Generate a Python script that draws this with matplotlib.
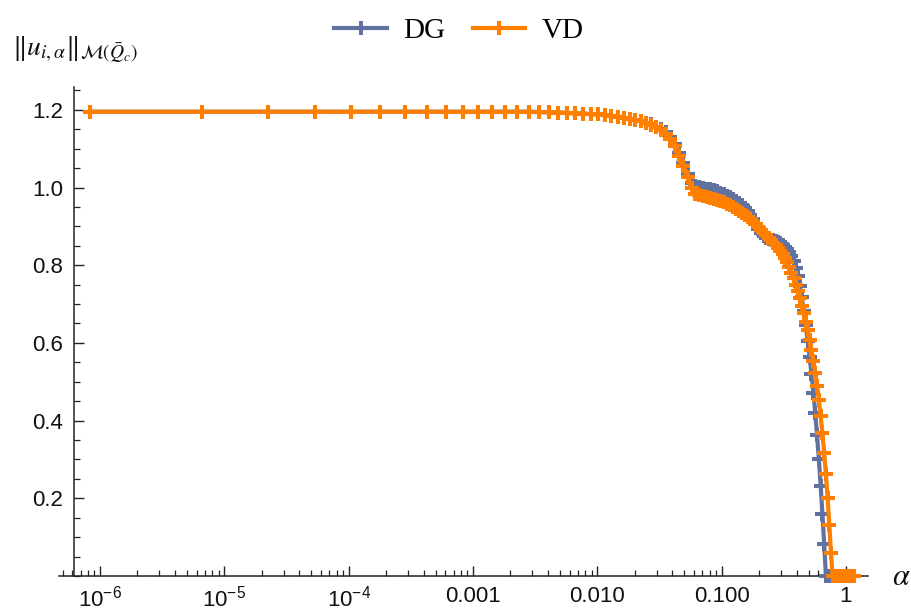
import matplotlib
matplotlib.use("Agg")
import matplotlib.pyplot as plt
import numpy as np
from matplotlib.ticker import FixedLocator, LogLocator, NullFormatter, MultipleLocator

plt.rcParams["font.family"] = ["Liberation Sans", "DejaVu Sans"]
plt.rcParams["mathtext.fontset"] = "custom"
plt.rcParams["mathtext.rm"] = "Liberation Sans"
plt.rcParams["mathtext.it"] = "Liberation Sans:italic"

# regularisation parameter values
alpha = [
    8.300e-07, 6.640e-06, 2.241e-05, 5.312e-05, 1.038e-04, 1.793e-04, 2.847e-04, 4.250e-04, 6.051e-04, 8.300e-04,
    1.105e-03, 1.434e-03, 1.824e-03, 2.278e-03, 2.801e-03, 3.400e-03, 4.078e-03, 4.841e-03, 5.693e-03, 6.640e-03,
    7.687e-03, 8.838e-03, 1.010e-02, 1.147e-02, 1.297e-02, 1.459e-02, 1.634e-02, 1.822e-02, 2.024e-02, 2.241e-02,
    2.473e-02, 2.720e-02, 2.983e-02, 3.262e-02, 3.559e-02, 3.872e-02, 4.204e-02, 4.554e-02, 4.923e-02, 5.312e-02,
    5.720e-02, 6.149e-02, 6.599e-02, 7.070e-02, 7.563e-02, 8.079e-02, 8.617e-02, 9.179e-02, 9.765e-02, 1.038e-01,
    1.101e-01, 1.167e-01, 1.236e-01, 1.307e-01, 1.381e-01, 1.458e-01, 1.537e-01, 1.619e-01, 1.705e-01, 1.793e-01,
    1.884e-01, 1.978e-01, 2.075e-01, 2.176e-01, 2.279e-01, 2.386e-01, 2.496e-01, 2.610e-01, 2.727e-01, 2.847e-01,
    2.971e-01, 3.098e-01, 3.229e-01, 3.363e-01, 3.502e-01, 3.644e-01, 3.789e-01, 3.939e-01, 4.092e-01, 4.250e-01,
    4.411e-01, 4.576e-01, 4.746e-01, 4.919e-01, 5.097e-01, 5.279e-01, 5.466e-01, 5.656e-01, 5.851e-01, 6.051e-01,
    6.255e-01, 6.463e-01, 6.676e-01, 6.894e-01, 7.116e-01, 7.343e-01, 7.575e-01, 7.812e-01, 8.053e-01, 8.300e-01,
    8.551e-01, 8.808e-01, 9.070e-01, 9.336e-01, 9.608e-01, 9.885e-01, 1.017e+00, 1.046e+00, 1.075e+00, 1.105e+00,
    1.135e+00, 1.166e+00,
]

# norm of the control for the DG discretisation
norm_dg = [
    1.195, 1.195, 1.195, 1.195, 1.195, 1.195, 1.195, 1.195, 1.195, 1.195,
    1.195, 1.195, 1.195, 1.195, 1.195, 1.194, 1.194, 1.193, 1.192, 1.191,
    1.190, 1.189, 1.188, 1.186, 1.184, 1.182, 1.180, 1.177, 1.174, 1.171,
    1.167, 1.163, 1.157, 1.150, 1.142, 1.131, 1.113, 1.088, 1.062, 1.036,
    1.012, 1.003, 1.001, 0.999, 0.997, 0.995, 0.993, 0.990, 0.987, 0.983,
    0.979, 0.975, 0.970, 0.965, 0.960, 0.954, 0.947, 0.939, 0.929, 0.918,
    0.905, 0.893, 0.883, 0.876, 0.871, 0.868, 0.866, 0.864, 0.862, 0.859,
    0.856, 0.852, 0.847, 0.841, 0.833, 0.823, 0.810, 0.793, 0.772, 0.747,
    0.717, 0.683, 0.645, 0.605, 0.564, 0.520, 0.472, 0.420, 0.362, 0.300,
    0.232, 0.160, 0.083, 0.0, 0.0, 0.0, 0.0, 0.0, 0.0, 0.0,
    0.0, 0.0, 0.0, 0.0, 0.0, 0.0, 0.0, 0.0, 0.0, 0.0,
    0.0, 0.0,
]

# norm of the control for the VD discretisation
norm_vd = [
    1.195, 1.195, 1.195, 1.195, 1.195, 1.195, 1.195, 1.195, 1.195, 1.195,
    1.195, 1.195, 1.195, 1.195, 1.195, 1.194, 1.194, 1.193, 1.192, 1.191,
    1.190, 1.189, 1.188, 1.186, 1.184, 1.182, 1.180, 1.177, 1.174, 1.170,
    1.166, 1.161, 1.155, 1.147, 1.138, 1.126, 1.106, 1.080, 1.055, 1.028,
    1.000, 0.983, 0.980, 0.978, 0.976, 0.974, 0.971, 0.968, 0.965, 0.962,
    0.958, 0.954, 0.950, 0.945, 0.940, 0.935, 0.930, 0.924, 0.918, 0.912,
    0.905, 0.898, 0.891, 0.884, 0.877, 0.870, 0.864, 0.858, 0.852, 0.845,
    0.837, 0.828, 0.818, 0.807, 0.795, 0.781, 0.766, 0.750, 0.733, 0.715,
    0.696, 0.676, 0.655, 0.632, 0.608, 0.582, 0.554, 0.523, 0.490, 0.453,
    0.412, 0.367, 0.317, 0.262, 0.200, 0.132, 0.058, 0.0, 0.0, 0.0,
    0.0, 0.0, 0.0, 0.0, 0.0, 0.0, 0.0, 0.0, 0.0, 0.0,
    0.0, 0.0,
]

x_ticks = [1e-6, 1e-5, 1e-4, 1e-3, 1e-2, 1e-1, 1.0]
x_ticklabels = [r"$10^{-6}$", r"$10^{-5}$", r"$10^{-4}$", "0.001", "0.010", "0.100", "1"]
y_ticks = [0.2, 0.4, 0.6, 0.8, 1.0, 1.2]
y_ticklabels = ["0.2", "0.4", "0.6", "0.8", "1.0", "1.2"]

col_dg = "#6272A0"
col_vd = "#FF8000"

W, H = 912, 613
fig = plt.figure(figsize=(W / 100, H / 100), dpi=100)
ax = fig.add_axes([59 / W, 37 / H, 809 / W, 489 / H])
ax.set_xscale("log")
ax.set_xlim(10 ** -6.33, 10 ** 0.177)
ax.set_ylim(0, 1.2587)

style = dict(lw=3.0, marker="+", ms=9.5, mew=2.9, clip_on=False, solid_joinstyle="round")
ln_dg, = ax.plot(alpha, norm_dg, color=col_dg, label="DG", zorder=3, **style)
ln_vd, = ax.plot(alpha, norm_vd, color=col_vd, label="VD", zorder=4, **style)

# axes crossing at the origin, Mathematica style
for s in ("top", "right"):
    ax.spines[s].set_visible(False)
ax.spines["left"].set_position(("data", 10 ** -6.209))
for s in ("left", "bottom"):
    ax.spines[s].set_linewidth(1.1)
    ax.spines[s].set_color("#222222")

ax.xaxis.set_major_locator(FixedLocator(x_ticks))
ax.set_xticklabels(x_ticklabels)
ax.xaxis.set_minor_locator(LogLocator(base=10, subs=np.arange(2, 10), numticks=30))
ax.xaxis.set_minor_formatter(NullFormatter())

ax.yaxis.set_major_locator(FixedLocator(y_ticks))
ax.set_yticklabels(y_ticklabels)
ax.yaxis.set_minor_locator(MultipleLocator(0.05))

ax.tick_params(axis="both", which="major", direction="in", length=7, width=1.0,
               color="#222222", labelsize=16, labelcolor="#111111")
ax.tick_params(axis="both", which="minor", direction="in", length=4, width=0.9, color="#222222")
ax.tick_params(axis="x", which="major", pad=7)
ax.tick_params(axis="y", which="major", pad=8)

fig.text(12 / W, 1 - 50 / H, r"$\Vert u_{i,\alpha}\Vert_{\mathcal{M}(\bar{Q}_c)}$",
         math_fontfamily="stix", fontsize=20, ha="left", va="center", color="#111111")
fig.text(892 / W, 1 - 577 / H, r"$\alpha$", math_fontfamily="stix", fontsize=22,
         ha="left", va="center", color="#111111")

fig.legend(handles=[ln_dg, ln_vd], labels=["DG", "VD"], loc="upper center",
           bbox_to_anchor=(0.503, 1.0), ncol=2, frameon=False, numpoints=1,
           handlelength=1.8, handletextpad=0.55, columnspacing=0.95, borderaxespad=0.2,
           prop={"family": "Liberation Serif", "size": 21})

fig.savefig("out.png", dpi=100)
